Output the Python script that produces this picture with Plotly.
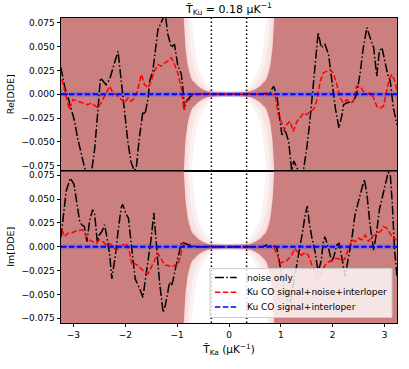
import plotly.graph_objects as go
from plotly.subplots import make_subplots

# ── data ──────────────────────────────────────────────────────────────────────

# Re[DDE], noise only
re_noise_x = [-3.24, -3.17, -3.11, -3.01, -2.98, -2.92, -2.82, -2.75, -2.66, -2.59, -2.53,
              -2.48, -2.43, -2.37, -2.30, -2.24, -2.18, -2.14, -2.08, -2.01, -1.95, -1.89,
              -1.83, -1.79, -1.73, -1.66, -1.62, -1.56, -1.53, -1.47, -1.40, -1.37, -1.31,
              -1.23, -1.18, -1.11, -1.08, -1.05, -0.99, -0.92, -0.89, -0.86, -0.82, -0.76,
              -0.70, -0.63,
              0.60, 0.79, 0.86, 0.92, 0.99, 1.02, 1.08, 1.15, 1.21, 1.25, 1.30, 1.37, 1.44,
              1.50, 1.56, 1.63, 1.69, 1.72, 1.78, 1.82, 1.85, 1.92, 1.98, 2.05, 2.12, 2.18,
              2.21, 2.27, 2.34, 2.40, 2.46, 2.53, 2.59, 2.66, 2.72, 2.79, 2.85, 2.90, 2.95,
              3.01, 3.06, 3.11, 3.17, 3.24]
re_noise_y = [0.028, 0.008, -0.002, -0.020, -0.028, -0.046, -0.067, -0.085, -0.085, -0.057,
              -0.018, 0.017, 0.014, 0.010, 0.016, 0.028, 0.038, 0.045, 0.014, -0.021, -0.050,
              -0.071, -0.080, -0.078, -0.046, -0.018, -0.021, -0.004, 0.014, 0.024, 0.056,
              0.068, 0.075, 0.085, 0.063, 0.049, 0.051, 0.052, 0.031, 0.021, 0.007, -0.016,
              -0.007, -0.004, 0.000, 0.000,
              0.000, 0.0015, 0.0084, -0.0003, -0.032, -0.0425, -0.037, -0.0495, -0.080,
              -0.070, -0.076, -0.085, -0.078, -0.0565, -0.028, 0.0137, 0.0524, 0.0647,
              0.0489, 0.0506, 0.0524, 0.0418, 0.0137, -0.0143, -0.0354, -0.0214, -0.0109,
              -0.0091, -0.008, -0.0074, -0.0003, 0.0225, 0.0489, 0.070, 0.0594, 0.0489,
              0.019, 0.0453, 0.0489, 0.0348, 0.0208, 0.0137, -0.0143, -0.0319]

# Re[DDE], Ku CO signal + noise + interloper
re_signoise_x = [-3.22, -3.08, -3.01, -2.92, -2.82, -2.72, -2.66, -2.59, -2.53, -2.47, -2.37,
                 -2.30, -2.24, -2.18, -2.11, -2.01, -1.95, -1.89, -1.82, -1.76, -1.69, -1.63,
                 -1.56, -1.50, -1.44, -1.37, -1.31, -1.24, -1.18, -1.11, -1.05, -0.99, -0.92,
                 -0.87, -0.82, -0.76, -0.70, -0.63,
                 0.60, 0.86, 0.89, 0.95, 1.02, 1.07, 1.11, 1.18, 1.24, 1.31, 1.37, 1.44, 1.50,
                 1.56, 1.63, 1.69, 1.76, 1.82, 1.89, 1.95, 2.01, 2.08, 2.14, 2.21, 2.27, 2.34,
                 2.40, 2.46, 2.53, 2.59, 2.66, 2.72, 2.79, 2.85, 2.92, 2.98, 3.04, 3.09, 3.14,
                 3.20, 3.24]
re_signoise_y = [0.0155, -0.0161, -0.0056, -0.0074, -0.0091, -0.0109, -0.0091, -0.0116,
                 -0.0143, -0.0091, 0.0015, 0.0084, 0.0015, -0.0003, -0.0038, -0.0091, -0.0038,
                 -0.0074, -0.0038, 0.005, 0.0208, 0.0102, 0.0067, 0.0137, 0.0242, 0.0313,
                 0.0295, 0.033, 0.0348, 0.0383, 0.0313, 0.0225, 0.0067, -0.0161, -0.0074,
                 -0.0056, -0.0003, 0.000,
                 0.000, 0.000, -0.0003, -0.0214, -0.0319, -0.0372, -0.0319, -0.0284, -0.039,
                 -0.0284, -0.0249, -0.0196, -0.0214, -0.0179, -0.0161, -0.0074, 0.0137, 0.0225,
                 0.0242, 0.026, 0.0225, 0.0102, -0.0038, -0.0091, -0.0056, -0.0091, -0.0074,
                 0.0084, 0.0084, 0.0032, -0.0003, 0.0015, -0.0038, -0.0126, -0.0143, -0.0126,
                 0.0032, 0.0155, 0.0208, 0.0137, 0.0032]

# Im[DDE], noise only
im_noise_x = [-3.24, -3.14, -3.06, -2.99, -2.95, -2.88, -2.84, -2.79, -2.74, -2.69, -2.63,
              -2.59, -2.54, -2.50, -2.45, -2.40, -2.35, -2.30, -2.26, -2.19, -2.14, -2.08,
              -2.05, -1.98, -1.94, -1.90, -1.85, -1.81, -1.72, -1.66, -1.62, -1.56, -1.50,
              -1.45, -1.40, -1.34, -1.27, -1.23, -1.18, -1.15, -1.11, -1.08, -1.02, -0.95,
              -0.91, -0.86, -0.79, -0.73, -0.63,
              0.66, 0.73, 0.79, 0.92, 0.95, 1.02, 1.07, 1.11, 1.18, 1.24, 1.31, 1.37, 1.42,
              1.47, 1.51, 1.54, 1.60, 1.66, 1.72, 1.78, 1.82, 1.85, 1.92, 1.98, 2.03, 2.08,
              2.12, 2.18, 2.24, 2.30, 2.37, 2.43, 2.50, 2.56, 2.61, 2.66, 2.72, 2.79, 2.85,
              2.90, 2.95, 3.01, 3.07, 3.11, 3.15, 3.19, 3.24]
im_noise_y = [0.010, 0.0585, 0.072, 0.0656, 0.0515, 0.0266, 0.023, 0.0213, 0.0053, 0.0266,
              0.039, 0.0337, 0.0053, 0.0124, 0.016, 0.023, 0.0089, -0.0088, -0.0336, -0.0088,
              0.016, 0.0408, 0.0444, 0.0337, 0.0302, 0.0089, -0.0195, -0.0336, -0.0443,
              -0.0532, -0.0372, -0.016, 0.0089, 0.0355, 0.0018, -0.0372, -0.069, -0.062,
              -0.0479, -0.0372, -0.0408, -0.0354, -0.0195, -0.0017, 0.0053, 0.0036, 0.0018,
              0.001, 0.000,
              0.000, 0.002, 0.001, 0.000, -0.0106, -0.0312, -0.046, -0.055, -0.0585, -0.0408,
              -0.0195, -0.0017, 0.016, 0.0337, 0.0426, 0.0284, 0.0089, -0.0053, -0.0266,
              -0.0142, 0.0053, 0.0106, -0.0017, -0.016, -0.0088, 0.0018, 0.0036, -0.0124,
              -0.031, -0.0124, 0.0089, 0.0337, 0.0479, 0.062, 0.0709, 0.055, 0.0231, -0.0035,
              0.016, 0.039, 0.0515, 0.064, 0.078, 0.076, 0.0444, -0.0017, -0.031]

# Im[DDE], Ku CO signal + noise + interloper
im_signoise_x = [-3.22, -3.17, -3.11, -3.04, -2.98, -2.92, -2.82, -2.75, -2.69, -2.63, -2.56,
                 -2.50, -2.43, -2.37, -2.30, -2.24, -2.18, -2.11, -2.05, -1.98, -1.92, -1.87,
                 -1.82, -1.76, -1.69, -1.63, -1.56, -1.50, -1.44, -1.37, -1.31, -1.24, -1.18,
                 -1.11, -1.05, -0.99, -0.93, -0.89, -0.82, -0.63,
                 0.60, 0.86, 0.92, 0.99, 1.03, 1.11, 1.21, 1.27, 1.34, 1.40, 1.47, 1.53, 1.60,
                 1.66, 1.72, 1.79, 1.85, 1.92, 1.98, 2.05, 2.11, 2.18, 2.24, 2.30, 2.37, 2.43,
                 2.50, 2.56, 2.63, 2.69, 2.75, 2.82, 2.88, 2.95, 2.98, 3.04, 3.11, 3.17, 3.24]
im_signoise_y = [0.0178, 0.0106, 0.0142, 0.0142, 0.016, 0.0167, 0.0178, 0.0106, 0.0071,
                 0.0053, 0.0036, 0.0071, 0.0053, 0.0018, 0.0036, 0.000, -0.0035, -0.0017,
                 0.0018, 0.0036, -0.0053, -0.0195, -0.0177, -0.0195, -0.023, -0.0266, -0.0283,
                 -0.0213, -0.016, -0.007, -0.0124, -0.0195, -0.0195, -0.0213, -0.0195,
                 -0.0195, -0.0088, 0.0018, 0.0007, 0.000,
                 0.000, 0.000, -0.007, -0.0177, -0.016, -0.0149, -0.0088, -0.0017, -0.007,
                 -0.0088, -0.006, -0.0088, -0.0195, -0.0266, -0.0336, -0.0266, -0.0195,
                 -0.016, -0.0149, -0.0124, -0.0124, -0.0149, -0.0124, -0.0017, 0.0071, 0.0053,
                 0.0089, 0.0071, 0.0124, 0.0053, 0.0106, 0.0124, 0.0142, 0.0178, 0.0213,
                 0.0195, 0.0142, 0.0089, 0.0071]

# Ku CO signal + interloper (both panels) and its thin band
sig_x = [-3.24, 3.24]
sig_y = [0.0, 0.0]
sig_band = [0.0025, 0.0025]

# noise envelope, half-width vs |x| (narrowest = darkest layer first)
band_x = [0.0, 0.2, 0.3, 0.37, 0.41, 0.5, 0.6, 0.66, 0.7, 0.73, 0.77, 0.8, 0.84, 0.87, 0.9, 3.3]
band_w = [
    [0.0015, 0.0018, 0.0022, 0.0027, 0.003, 0.005, 0.0084, 0.012, 0.014, 0.017, 0.024, 0.031, 0.049, 0.077, 0.12, 0.12],
    [0.0018, 0.0021, 0.0026, 0.0032, 0.0036, 0.0062, 0.0105, 0.015, 0.019, 0.023, 0.033, 0.045, 0.08, 0.12, 0.12, 0.12],
    [0.0023, 0.0028, 0.0036, 0.0048, 0.0056, 0.0098, 0.017, 0.026, 0.034, 0.043, 0.065, 0.1, 0.12, 0.12, 0.12, 0.12],
    [0.003, 0.004, 0.0055, 0.0084, 0.010, 0.017, 0.029, 0.049, 0.068, 0.085, 0.12, 0.12, 0.12, 0.12, 0.12, 0.12],
]
band_colors = ["rgba(175,69,69,0.6)", "rgba(220,80,80,0.08)",
               "rgba(220,80,80,0.08)", "rgba(220,80,80,0.08)"]

dotted_x = [-0.34, 0.34]

legend_labels = ["noise only", "Ku CO signal+noise+interloper", "Ku CO signal+interloper"]
legend_colors = ["black", "red", "blue"]
legend_dashes = ["9px,2.4px,1.5px,2.4px", "5.5px,2.4px", "5.5px,2.4px"]

FONT = "DejaVu Sans"


def _band_polygon(xs, ws):
    full_x = [-v for v in reversed(xs)] + xs[1:]
    full_w = list(reversed(ws)) + ws[1:]
    return full_x + full_x[::-1], full_w + [-v for v in full_w[::-1]]


fig = make_subplots(rows=2, cols=1, shared_xaxes=True, vertical_spacing=0)

panels = [(re_noise_x, re_noise_y, re_signoise_x, re_signoise_y),
          (im_noise_x, im_noise_y, im_signoise_x, im_signoise_y)]

for row, (nx, ny, sx, sy) in enumerate(panels, start=1):
    # noise envelope, widest (lightest) first
    for ws, col in reversed(list(zip(band_w, band_colors))):
        px, py = _band_polygon(band_x, ws)
        fig.add_trace(go.Scatter(x=px, y=py, fill="toself", fillcolor=col, mode="none",
                                 hoverinfo="skip"), row=row, col=1)
    # band around the signal+interloper curve
    fig.add_trace(go.Scatter(x=sig_x + sig_x[::-1],
                             y=[a + b for a, b in zip(sig_y, sig_band)] +
                               [a - b for a, b in zip(sig_y, sig_band)][::-1],
                             fill="toself", fillcolor="rgba(90,90,230,0.4)", mode="none",
                             hoverinfo="skip"), row=row, col=1)
    for xs, ys, c, d, w in [(nx, ny, "black", legend_dashes[0], 1.5),
                            (sx, sy, "red", legend_dashes[1], 1.5),
                            (sig_x, sig_y, "blue", legend_dashes[2], 2)]:
        fig.add_trace(go.Scatter(x=xs, y=ys, mode="lines",
                                 line=dict(color=c, width=w, dash=d)), row=row, col=1)

for xv in dotted_x:
    fig.add_shape(type="line", xref="x", yref="paper", x0=xv, x1=xv, y0=0, y1=1,
                  line=dict(color="black", width=1.5, dash="1.5px,2.5px"))

# legend drawn by hand (matplotlib-like compact box)
fig.add_shape(type="rect", xref="paper", yref="paper", x0=0.4435, x1=0.985, y0=0.018, y1=0.1785,
              fillcolor="rgba(255,255,255,0.8)", line=dict(color="#cccccc", width=1))
for i, (lab, c, d) in enumerate(zip(legend_labels, legend_colors, legend_dashes)):
    yy = 0.149 - i * 0.0483
    fig.add_shape(type="line", xref="paper", yref="paper", x0=0.458, x1=0.523, y0=yy, y1=yy,
                  line=dict(color=c, width=1.5, dash=d))
    fig.add_annotation(xref="paper", yref="paper", x=0.5476, y=yy, text=lab, showarrow=False,
                       xanchor="left", yanchor="middle",
                       font=dict(family=FONT, size=9, color="black"))

axis_common = dict(showline=True, linecolor="black", linewidth=0.8, mirror=True,
                   showgrid=False, zeroline=False, ticks="outside", ticklen=3.5,
                   tickwidth=0.8, tickcolor="black", automargin=False,
                   tickfont=dict(family=FONT, size=9, color="black"))

fig.update_xaxes(range=[-3.24, 3.24], tickvals=[-3, -2, -1, 0, 1, 2, 3], **axis_common)
fig.update_xaxes(showticklabels=False, ticks="", row=1, col=1)
fig.update_xaxes(title=dict(text="T\u0303<sub>Ka</sub> (μK<sup>−1</sup>)",
                            font=dict(family=FONT, size=10.5, color="black"), standoff=6),
                 row=2, col=1)
fig.update_yaxes(range=[-0.08, 0.08], tickvals=[-0.075, -0.05, -0.025, 0, 0.025, 0.05, 0.075],
                 tickformat=".3f", **axis_common)
fig.update_yaxes(title=dict(text="Re[DDE]", font=dict(family=FONT, size=9.5, color="black"),
                            standoff=5), row=1, col=1)
fig.update_yaxes(title=dict(text="Im[DDE]", font=dict(family=FONT, size=9.5, color="black"),
                            standoff=5), row=2, col=1)

fig.update_layout(
    width=409, height=369,
    margin=dict(l=61, r=12, t=18, b=46, autoexpand=False),
    paper_bgcolor="white", plot_bgcolor="white",
    font=dict(family=FONT, size=9, color="black"),
    title=dict(text="T\u0303<sub>Ku</sub> = 0.18 μK<sup>−1</sup>", x=0.5, xref="paper",
               xanchor="center", y=0.975, yref="container", yanchor="middle",
               font=dict(family=FONT, size=11, color="black")),
    showlegend=False,
)

# the page's default body margin would shift the figure by 8 px
fig.write_html("out.html", config={"displayModeBar": False},
               post_script="document.body.style.margin='0';")
